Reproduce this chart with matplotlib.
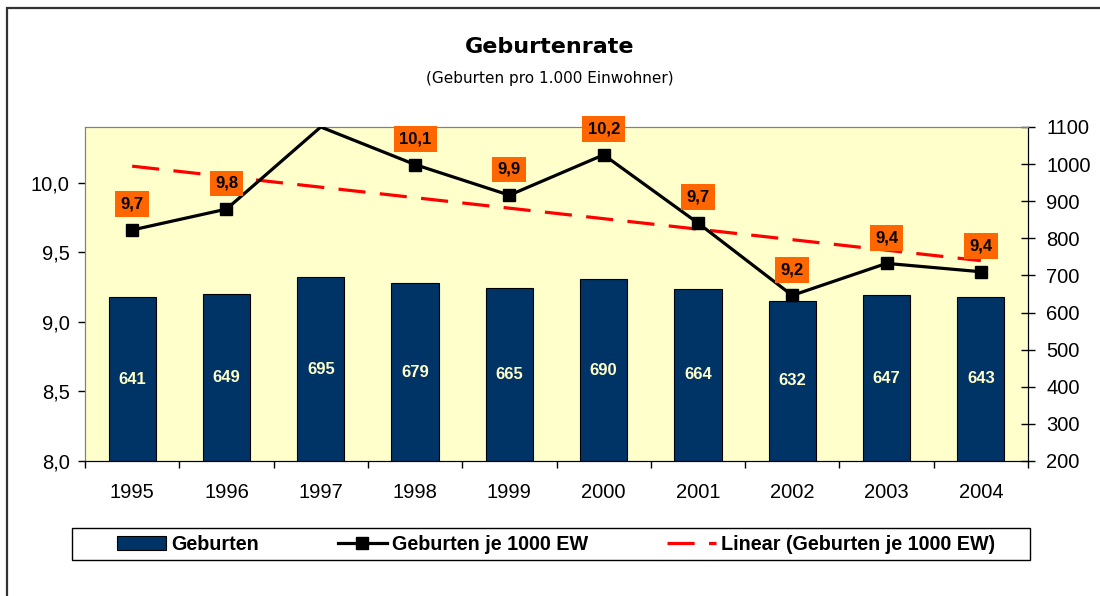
import numpy as np
import matplotlib.pyplot as plt
from matplotlib.patches import Rectangle
from matplotlib.lines import Line2D
from matplotlib.patches import Patch

plt.rcParams['font.family'] = ['Liberation Sans', 'DejaVu Sans']

# data
years = ["1995", "1996", "1997", "1998", "1999", "2000", "2001", "2002", "2003", "2004"]
births = [641, 649, 695, 679, 665, 690, 664, 632, 647, 643]
rate = [9.66, 9.81, 10.4, 10.13, 9.91, 10.20, 9.71, 9.19, 9.42, 9.36]
rate_labels = ["9,7", "9,8", "", "10,1", "9,9", "10,2", "9,7", "9,2", "9,4", "9,4"]

navy = "#003366"
cream = "#FFFFCC"
orange = "#FF6600"

fig = plt.figure(figsize=(11, 5.96), dpi=100)

# outer frame
fig.patches.append(Rectangle((7 / 1100, -0.05), 1.1, 1 - 8 / 596 + 0.05, transform=fig.transFigure,
                             fill=False, edgecolor="#333333", linewidth=1.6))

ax = fig.add_axes([85 / 1100, 1 - 461 / 596, 943 / 1100, 334 / 596])
ax2 = ax.twinx()

x = np.arange(len(years))

# bars (births) on right axis
bars = ax.bar(x, births, width=0.5, color=navy, edgecolor="black", linewidth=0.8, zorder=2)
for xi, b in zip(x, births):
    ax.text(xi, (200 + b) / 2, str(b), ha="center", va="center", color=cream,
            fontsize=12, fontweight="bold", zorder=3)

ax.set_facecolor(cream)
ax.set_xlim(-0.5, len(years) - 0.5)
ax.set_ylim(200, 1100)
ax.set_yticks(np.arange(200, 1101, 100))
ax.yaxis.tick_right()
ax.tick_params(axis="y", direction="inout", length=10, width=1, labelsize=14.5, pad=8)
ax.set_xticks(x)
ax.set_xticklabels(years)
ax.set_xticks(np.arange(-0.5, len(years)), minor=True)
ax.tick_params(axis="x", which="major", length=0, labelsize=14.5, pad=16)
ax.tick_params(axis="x", which="minor", length=5, width=1, direction="out")

# rate line on left axis
ax2.set_ylim(8.0, 10.4)
ax2.set_yticks(np.arange(8.0, 10.01, 0.5))
ax2.set_yticklabels([f"{v:.1f}".replace(".", ",") for v in np.arange(8.0, 10.01, 0.5)])
ax2.yaxis.tick_left()
ax2.tick_params(axis="y", direction="out", length=5, width=1, labelsize=14.5, pad=6)

coef = np.polyfit(x, rate, 1)
ax2.plot(x, np.polyval(coef, x), color="red", linewidth=2.3, dashes=(8.5, 4.5), zorder=2)

vis = [i for i, v in enumerate(rate) if v < 10.4]
ax2.plot(x, rate, color="black", linewidth=2.3, marker="s", markersize=8.5,
         markevery=vis, zorder=3)

for xi, v, lab in zip(x, rate, rate_labels):
    if not lab:
        continue
    ax2.annotate(lab, (xi, v), xytext=(0, 18.5), textcoords="offset points",
                 ha="center", va="center", fontsize=12, fontweight="bold",
                 bbox=dict(boxstyle="square,pad=0.32", facecolor=orange, edgecolor="none"),
                 annotation_clip=False, zorder=5)

for a in (ax, ax2):
    a.spines["top"].set_color("#808080")
    a.spines["left"].set_color("#808080")
    a.spines["right"].set_color("black")
    a.spines["bottom"].set_color("black")

# titles
fig.text(0.5, 1 - 47 / 596, "Geburtenrate", ha="center", va="center",
         fontsize=16, fontweight="bold", family="DejaVu Sans")
fig.text(0.5, 1 - 78 / 596, "(Geburten pro 1.000 Einwohner)", ha="center", va="center",
         fontsize=11, family="DejaVu Sans")

# legend
fig.patches.append(Rectangle((72 / 1100, 1 - 560 / 596), 958 / 1100, 32 / 596,
                             transform=fig.transFigure, fill=False, edgecolor="black", linewidth=1))
handles = [Patch(facecolor=navy, edgecolor="black", linewidth=0.8),
           Line2D([], [], color="black", linewidth=2.3, marker="s", markersize=8.5),
           Line2D([], [], color="red", linewidth=2.3, dashes=(8.5, 4.5))]
fig.legend(handles, ["Geburten", "Geburten je 1000 EW", "Linear (Geburten je 1000 EW)"],
           loc="center", bbox_to_anchor=(556 / 1100, 1 - 544 / 596), ncol=3, frameon=False,
           prop=dict(weight="bold", size=14.2), handlelength=2.5, handletextpad=0.25,
           columnspacing=4.0)

fig.savefig("out.png", dpi=100)
